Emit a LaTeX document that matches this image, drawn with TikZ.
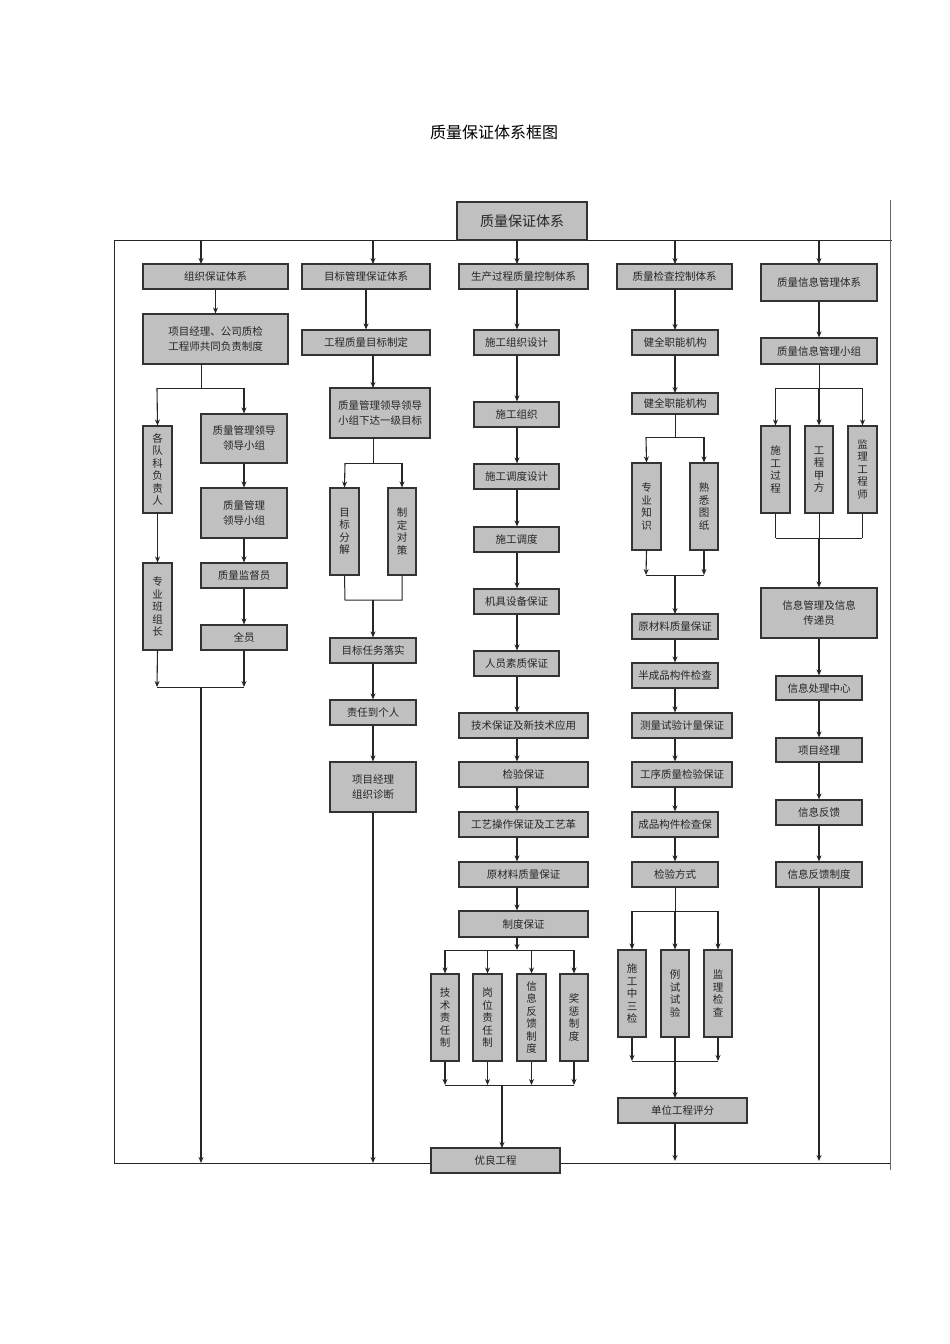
\documentclass[tikz,border=0pt]{standalone}
\usepackage{fontspec}
\setmainfont{Noto Sans CJK SC}
\usetikzlibrary{arrows.meta}
\newcommand\bx[6]{\node[box,minimum width={(#4-#2)*1pt},minimum height={(#5-#3)*1pt}] (#1) at ({(#2+#4)/2},{(#3+#5)/2}) {#6};}
\newcommand\vt[1]{\parbox{1.1em}{\centering\baselineskip=12.5pt #1}}
\begin{document}
\begin{tikzpicture}[x=1pt,y=-1pt,
  box/.style={draw=black!80,line width=1.1pt,fill={rgb,255:red,192;green,192;blue,192},inner sep=0pt,font=\fontsize{10.5}{15}\selectfont,align=center,text=black!85},
  ar/.style={-{Stealth[length=6pt,width=5pt]},line width=1.1pt,black!85},
  ln/.style={line width=1pt,black!85}]
\useasboundingbox (0,0) rectangle (950,1344);
\node (title) at (494,132) {\fontsize{16}{18}\selectfont 质量保证体系框图};
% frame
\draw[ln] (114,1163) -- (114,240) -- (892,240);
\draw[ln,black!60] (890,200) -- (890,1170);
\draw[ln] (114,1163) -- (890,1163);
\bx{top}{457}{202}{587}{240}{\fontsize{14}{16}\selectfont 质量保证体系}
\foreach \x in {201,373,517,675,819} \draw[ar] (\x,240) -- (\x,264);
% column 1
\bx{c1a}{143}{264}{288}{289}{组织保证体系}
\bx{c1b}{143}{314}{288}{364}{项目经理、公司质检\\工程师共同负责制度}
\bx{c1c}{143}{426}{172}{513}{\vt{各\\队\\科\\负\\责\\人}}
\bx{c1d}{201}{414}{287}{463}{质量管理领导\\领导小组}
\bx{c1e}{201}{488}{287}{538}{质量管理\\领导小组}
\bx{c1f}{201}{563}{287}{588}{质量监督员}
\bx{c1g}{201}{625}{287}{650}{全员}
\bx{c1h}{143}{563}{172}{650}{\vt{专\\业\\班\\组\\长}}
\draw[ar] (c1a) -- (c1b);
\draw[ln] (201,364) -- (201,388); \draw[ln] (157,388) -- (244,388);
\draw[ar] (157,388) -- (c1c.north); \draw[ar] (244,388) -- (c1d.north);
\draw[ar] (c1c.south) -- (c1h.north);
\draw[ar] (c1d) -- (c1e); \draw[ar] (c1e) -- (c1f); \draw[ar] (c1f) -- (c1g);
\draw[ar] (c1h.south) -- (157,687); \draw[ar] (c1g.south) -- (244,687);
\draw[ln] (157,687) -- (244,687);
\draw[ar] (201,687) -- (201,1163);
% column 2
\bx{c2a}{302}{264}{430}{289}{目标管理保证体系}
\bx{c2b}{302}{330}{430}{355}{工程质量目标制定}
\bx{c2c}{330}{388}{430}{438}{质量管理领导领导\\小组下达一级目标}
\bx{c2d}{330}{488}{359}{575}{\vt{目\\标\\分\\解}}
\bx{c2e}{388}{488}{416}{575}{\vt{制\\定\\对\\策}}
\bx{c2f}{330}{638}{416}{663}{目标任务落实}
\bx{c2g}{330}{700}{416}{725}{责任到个人}
\bx{c2h}{330}{762}{416}{812}{项目经理\\组织诊断}
\draw[ar] (c2a) -- (c2b); \draw[ar] (373,355) -- (373,388);
\draw[ln] (373,438) -- (373,463); \draw[ln] (345,463) -- (402,463);
\draw[ar] (345,463) -- (c2d.north); \draw[ar] (402,463) -- (c2e.north);
\draw[ln] (c2d.south) -- (345,600) -- (402,600) -- (c2e.south);
\draw[ar] (373,600) -- (c2f.north);
\draw[ar] (c2f) -- (c2g); \draw[ar] (c2g) -- (c2h);
\draw[ar] (c2h.south) -- (373,1163);
% column 3
\bx{c3a}{459}{264}{588}{289}{生产过程质量控制体系}
\bx{c3b}{474}{330}{559}{355}{施工组织设计}
\bx{c3c}{474}{402}{559}{427}{施工组织}
\bx{c3d}{474}{464}{559}{489}{施工调度设计}
\bx{c3e}{474}{527}{559}{552}{施工调度}
\bx{c3f}{474}{589}{559}{614}{机具设备保证}
\bx{c3g}{474}{651}{559}{676}{人员素质保证}
\bx{c3h}{459}{713}{588}{738}{技术保证及新技术应用}
\bx{c3i}{459}{762}{588}{787}{检验保证}
\bx{c3j}{459}{812}{588}{837}{工艺操作保证及工艺革}
\bx{c3k}{459}{862}{588}{887}{原材料质量保证}
\bx{c3l}{459}{911}{588}{937}{制度保证}
\foreach \a/\b in {c3a/c3b,c3b/c3c,c3c/c3d,c3d/c3e,c3e/c3f,c3f/c3g,c3g/c3h,c3h/c3i,c3i/c3j,c3j/c3k,c3k/c3l}
  \draw[ar] (517,0 |- \a.south) -- (517,0 |- \b.north);
\bx{c3m}{431}{974}{459}{1061}{\vt{技\\术\\责\\任\\制}}
\bx{c3n}{473}{974}{502}{1061}{\vt{岗\\位\\责\\任\\制}}
\bx{c3o}{517}{974}{546}{1061}{\vt{信\\息\\反\\馈\\制\\度}}
\bx{c3p}{560}{974}{588}{1061}{\vt{奖\\惩\\制\\度}}
\draw[ar] (517,937) -- (517,950); \draw[ln] (445,950) -- (574,950);
\foreach \n in {c3m,c3n,c3o,c3p} {
  \draw[ar] (\n.north |- 0,950) -- (\n.north);
  \draw[ar] (\n.south) -- (\n.south |- 0,1085);}
\draw[ln] (445,1085) -- (574,1085);
\bx{c3q}{431}{1148}{560}{1173}{优良工程}
\draw[ar] (502,1085) -- (502,1148);
% column 4
\bx{c4a}{617}{264}{732}{289}{质量检查控制体系}
\bx{c4b}{632}{330}{718}{355}{健全职能机构}
\bx{c4c}{632}{393}{718}{414}{健全职能机构}
\bx{c4d}{632}{463}{661}{550}{\vt{专\\业\\知\\识}}
\bx{c4e}{690}{463}{718}{550}{\vt{熟\\悉\\图\\纸}}
\bx{c4f}{632}{614}{718}{639}{原材料质量保证}
\bx{c4g}{632}{663}{718}{688}{半成品构件检查}
\bx{c4h}{632}{713}{732}{738}{测量试验计量保证}
\bx{c4i}{632}{762}{732}{787}{工序质量检验保证}
\bx{c4j}{632}{812}{718}{837}{成品构件检查保}
\bx{c4k}{632}{862}{718}{887}{检验方式}
\draw[ar] (675,289) -- (675,330); \draw[ar] (675,355) -- (675,393);
\draw[ln] (675,414) -- (675,437); \draw[ln] (646,437) -- (704,437);
\draw[ar] (646,437) -- (c4d.north); \draw[ar] (704,437) -- (c4e.north);
\draw[ar] (c4d.south) -- (646,575); \draw[ar] (c4e.south) -- (704,575);
\draw[ln] (646,575) -- (704,575); \draw[ar] (675,575) -- (675,614);
\foreach \a/\b in {c4f/c4g,c4g/c4h,c4h/c4i,c4i/c4j,c4j/c4k}
  \draw[ar] (675,0 |- \a.south) -- (675,0 |- \b.north);
\bx{c4l}{618}{950}{646}{1037}{\vt{施\\工\\中\\三\\检}}
\bx{c4m}{661}{950}{689}{1037}{\vt{例\\试\\试\\验}}
\bx{c4n}{704}{950}{732}{1037}{\vt{监\\理\\检\\查}}
\draw[ln] (675,887) -- (675,911); \draw[ln] (632,911) -- (718,911);
\draw[ar] (632,911) -- (c4l.north); \draw[ar] (675,911) -- (c4m.north); \draw[ar] (718,911) -- (c4n.north);
\draw[ar] (c4l.south) -- (632,1061); \draw[ar] (c4n.south) -- (718,1061);
\draw[ln] (632,1061) -- (718,1061);
\bx{c4o}{618}{1098}{747}{1123}{单位工程评分}
\draw[ar] (c4m.south) -- (675,1098);
\draw[ar] (675,1123) -- (675,1161);
% column 5
\bx{c5a}{761}{264}{877}{301}{质量信息管理体系}
\bx{c5b}{761}{338}{877}{364}{质量信息管理小组}
\bx{c5c}{761}{426}{790}{513}{\vt{施\\工\\过\\程}}
\bx{c5d}{805}{426}{833}{513}{\vt{工\\程\\甲\\方}}
\bx{c5e}{848}{426}{877}{513}{\vt{监\\理\\工\\程\\师}}
\bx{c5f}{761}{588}{877}{638}{信息管理及信息\\传递员}
\bx{c5g}{776}{676}{862}{700}{信息处理中心}
\bx{c5h}{776}{738}{862}{762}{项目经理}
\bx{c5i}{776}{800}{862}{825}{信息反馈}
\bx{c5j}{776}{862}{862}{887}{信息反馈制度}
\draw[ar] (c5a) -- (c5b);
\draw[ln] (819,364) -- (819,388); \draw[ln] (776,388) -- (862,388);
\foreach \n in {c5c,c5d,c5e} {
  \draw[ar] (\n.north |- 0,388) -- (\n.north);
  \draw[ln] (\n.south) -- (\n.south |- 0,538);}
\draw[ln] (776,538) -- (862,538);
\draw[ar] (819,538) -- (c5f.north);
\draw[ar] (c5f) -- (c5g); \draw[ar] (c5g) -- (c5h); \draw[ar] (c5h) -- (c5i); \draw[ar] (c5i) -- (c5j);
\draw[ar] (c5j.south) -- (819,1161);
\end{tikzpicture}
\end{document}
